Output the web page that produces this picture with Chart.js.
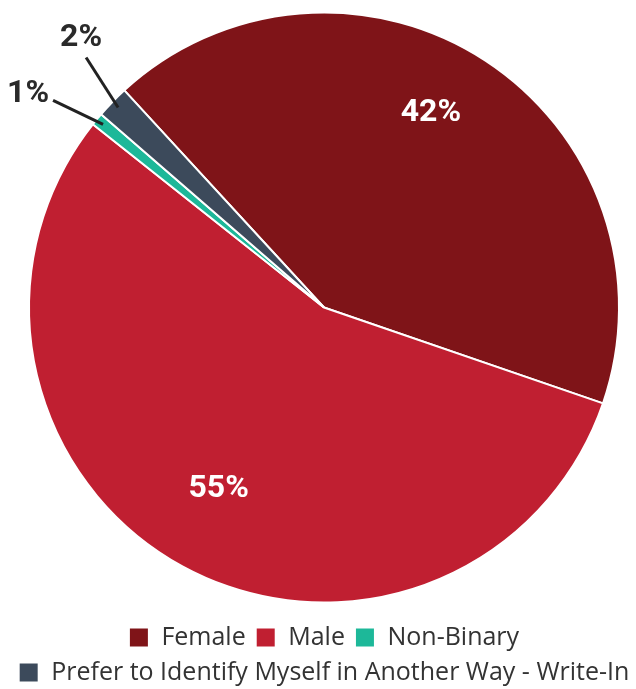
<!DOCTYPE html>
<html>
<head>
<meta charset="utf-8">
<script src="https://cdn.jsdelivr.net/npm/chart.js@4"></script>
<style>
  html, body { margin: 0; padding: 0; background: #ffffff; }
  #wrap { width: 636px; height: 689px; }
</style>
</head>
<body>
<div id="wrap"><canvas id="genderChart"></canvas></div>
<script>
const labels = ["Female", "Male", "Non-Binary", "Prefer to Identify Myself in Another Way - Write-In"];
const values = [42.1, 55.4, 0.7, 1.8];
const colors = ["#7f1418", "#c01f31", "#1db899", "#3c4a5b"];

// where each percent label goes: inside the slice, or outside with a leader line
const labelPlace = [
  { inside: true, r: 0.73, dx: -11, dy: -14 },
  { inside: true, r: 0.73, dx: -2, dy: -7 },
  { inside: false, lx: -50, ly: -24, dx: -25, dy: -6 },
  { inside: false, lx: -32, ly: -50, dx: -5, dy: -20 },
];

const pieLabels = {
  id: "pieLabels",
  afterDatasetsDraw(chart) {
    const ctx = chart.ctx;
    const meta = chart.getDatasetMeta(0);
    const total = values.reduce((s, v) => s + v, 0);
    ctx.save();
    ctx.font = "bold 32px Roboto";
    ctx.textAlign = "center";
    ctx.textBaseline = "middle";
    meta.data.forEach((arc, i) => {
      const { x, y, startAngle, endAngle, outerRadius } = arc.getProps(
        ["x", "y", "startAngle", "endAngle", "outerRadius"],
        true
      );
      const mid = (startAngle + endAngle) / 2;
      const text = Math.round((values[i] / total) * 100) + "%";
      const place = labelPlace[i];
      if (place.inside) {
        const r = outerRadius * place.r;
        ctx.fillStyle = "#ffffff";
        ctx.fillText(text, x + Math.cos(mid) * r + place.dx, y + Math.sin(mid) * r + place.dy);
      } else {
        const x1 = x + Math.cos(mid) * (outerRadius - 8);
        const y1 = y + Math.sin(mid) * (outerRadius - 8);
        const x2 = x1 + place.lx;
        const y2 = y1 + place.ly;
        ctx.strokeStyle = "#222222";
        ctx.lineWidth = 3;
        ctx.beginPath();
        ctx.moveTo(x1, y1);
        ctx.lineTo(x2, y2);
        ctx.stroke();
        ctx.fillStyle = "#2a2a2a";
        ctx.fillText(text, x2 + place.dx, y2 + place.dy);
      }
    });
    ctx.restore();
  },
};

new Chart(document.getElementById("genderChart"), {
  type: "pie",
  data: {
    labels: labels,
    datasets: [
      {
        data: values,
        backgroundColor: colors,
        borderColor: "#ffffff",
        borderWidth: 2,
        radius: 295,
      },
    ],
  },
  options: {
    responsive: true,
    maintainAspectRatio: false,
    animation: false,
    rotation: -42.6,
    layout: { padding: { top: -2, left: 12, right: 0, bottom: -6 } },
    plugins: {
      legend: {
        position: "bottom",
        labels: {
          boxWidth: 20,
          boxHeight: 20,
          padding: 10,
          color: "#333333",
          font: { family: "Open Sans", size: 25 },
        },
      },
      tooltip: { enabled: false },
    },
  },
  plugins: [pieLabels],
});
</script>
</body>
</html>
